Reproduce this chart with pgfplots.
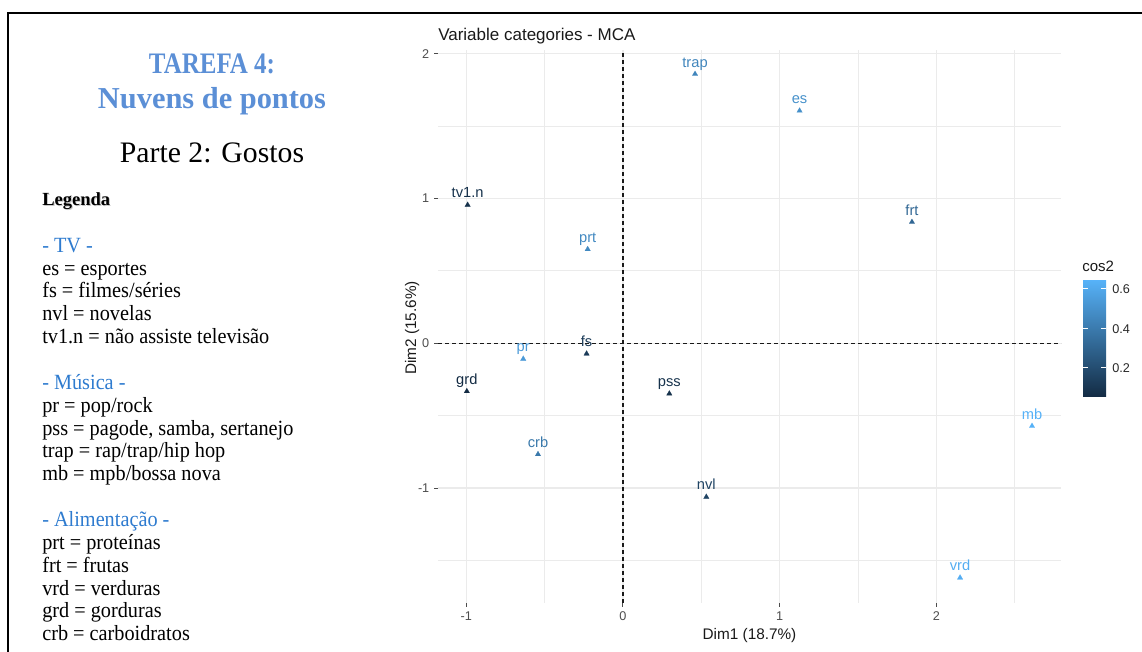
\documentclass[border=0pt]{standalone}
\usepackage{fontspec}
\setmainfont{Liberation Serif}
\newfontfamily\sans{Liberation Sans}
\usepackage{pgfplots}
\pgfplotsset{compat=1.18}
\usepackage{graphicx}
\definecolor{lo}{HTML}{132B43}
\definecolor{hi}{HTML}{56B1F7}
\definecolor{ttl}{HTML}{5B8FD6}
\definecolor{sec}{HTML}{2E7BCF}
\definecolor{gridc}{HTML}{EBEBEB}
\definecolor{tickc}{HTML}{4D4D4D}
\colorlet{ctrap}{hi!67!lo}
\colorlet{ces}{hi!75!lo}
\colorlet{cfrt}{hi!45!lo}
\colorlet{ctv}{hi!5!lo}
\colorlet{cprt}{hi!70!lo}
\colorlet{cpr}{hi!82!lo}
\colorlet{cfs}{hi!12!lo}
\colorlet{cgrd}{hi!0!lo}
\colorlet{cpss}{hi!5!lo}
\colorlet{ccrb}{hi!58!lo}
\colorlet{cnvl}{hi!18!lo}
\colorlet{cmb}{hi!100!lo}
\colorlet{cvrd}{hi!97!lo}
\newcommand{\pnt}[4]{\addplot[#3, only marks, mark=triangle*, mark size=2.4pt,
  mark options={draw=#3, fill=#3, line width=0.1pt}, nodes near coords={#4},
  every node near coord/.style={anchor=base, yshift=5.25pt, text=#3, inner sep=0pt,
  font=\sans\fontsize{11}{12}\selectfont}] coordinates {(#1,#2)};}
\newcommand{\LL}[3]{\node[anchor=base west, inner sep=0pt, text=#2, font=\fontsize{15.2}{17}\selectfont] at (42,{652-252.3-22.85*#1}) {\scalebox{1}[1.07]{#3}};}
\begin{document}
\begin{tikzpicture}[x=0.75pt,y=0.75pt]
\path[use as bounding box] (0,0) rectangle (1142,652);
\draw[line width=1.5pt] (8,0) -- (8,639) -- (1142,639);
\begin{axis}[
  at={(328.5pt,36.75pt)}, anchor=south west, scale only axis,
  width=467.25pt, height=414.75pt,
  xmin=-1.18, xmax=2.795, ymin=-1.795, ymax=2.027,
  xtick={-1,0,1,2}, ytick={-1,0,1,2},
  minor xtick={-0.5,0.5,1.5,2.5}, minor ytick={-1.5,-0.5,0.5,1.5},
  grid=both,
  major grid style={gridc, line width=0.85pt},
  minor grid style={gridc, line width=0.75pt},
  axis lines*=left, axis line style={draw=none},
  tick align=outside,
  major tick length=3pt, minor tick length=0pt,
  tick style={black!70, line width=0.7pt},
  ticklabel style={font=\sans\fontsize{9.5}{10}\selectfont, text=tickc},
  /pgf/number format/assume math mode=true,
]
\addplot[black!90, line width=0.85pt, dash pattern=on 3pt off 2.25pt, forget plot] coordinates {(0,-1.795) (0,2.027)};
\addplot[black!90, line width=0.85pt, dash pattern=on 3pt off 2.25pt, forget plot] coordinates {(-1.18,0) (2.795,0)};
\pnt{0.46}{1.861}{ctrap}{trap}
\pnt{1.127}{1.607}{ces}{es}
\pnt{1.844}{0.838}{cfrt}{frt}
\pnt{-0.991}{0.956}{ctv}{tv1.n}
\pnt{-0.225}{0.650}{cprt}{prt}
\pnt{-0.636}{-0.108}{cpr}{pr}
\pnt{-0.232}{-0.072}{cfs}{fs}
\pnt{-0.996}{-0.332}{cgrd}{grd}
\pnt{0.296}{-0.348}{cpss}{pss}
\pnt{-0.542}{-0.767}{ccrb}{crb}
\pnt{0.532}{-1.062}{cnvl}{nvl}
\pnt{2.610}{-0.572}{cmb}{mb}
\pnt{2.151}{-1.620}{cvrd}{vrd}
\end{axis}
% chart texts
\node[anchor=base west, inner sep=0pt, font=\sans\fontsize{12.75}{14}\selectfont, text=black!90] at (438,611.3) {Variable categories - MCA};
\node[anchor=base, inner sep=0pt, font=\sans\fontsize{11.5}{13}\selectfont, text=black!90] at (749.5,12.7) {Dim1 (18.7\%)};
\node[anchor=base, rotate=90, inner sep=0pt, font=\sans\fontsize{11.5}{13}\selectfont, text=black!90] at (416,324) {Dim2 (15.6\%)};
% colorbar
\shade[bottom color=lo, top color=hi] (1083,255) rectangle (1106,371);
\foreach \yy/\lab in {284.3/0.2, 323.3/0.4, 363/0.6}{
  \draw[white, line width=0.75pt] (1083,\yy) -- (1087.6,\yy);
  \draw[white, line width=0.75pt] (1101.4,\yy) -- (1106,\yy);
  \node[anchor=west, inner sep=0pt, font=\sans\fontsize{9.5}{10}\selectfont, text=black!85] at (1112,\yy) {\lab};
}
\node[anchor=base west, inner sep=0pt, font=\sans\fontsize{11.25}{12}\selectfont, text=black!90] at (1082,380.3) {cos2};
% left panel
\node[anchor=base, inner sep=0pt, text=ttl, font=\bfseries\fontsize{18.75}{20}\selectfont] at (212,578) {\scalebox{1}[1.19]{TAREFA 4:}};
\node[anchor=base, inner sep=0pt, text=ttl, font=\bfseries\fontsize{22.8}{24}\selectfont] at (212,543.7) {Nuvens de pontos};
\node[anchor=base, inner sep=0pt, text=black, font=\fontsize{22.3}{24}\selectfont] at (212,489.7) {Parte 2: Gostos};
\node[anchor=base west, inner sep=0pt, text=black!22, font=\bfseries\fontsize{13.9}{15}\selectfont] at (43,445) {Legenda};
\node[anchor=base west, inner sep=0pt, text=black, font=\bfseries\fontsize{13.9}{15}\selectfont] at (42,446) {Legenda};
\LL{0}{sec}{- TV -}
\LL{1}{black}{es = esportes}
\LL{2}{black}{fs = filmes/séries}
\LL{3}{black}{nvl = novelas}
\LL{4}{black}{tv1.n = não assiste televisão}
\LL{6}{sec}{- Música -}
\LL{7}{black}{pr = pop/rock}
\LL{8}{black}{pss = pagode, samba, sertanejo}
\LL{9}{black}{trap = rap/trap/hip hop}
\LL{10}{black}{mb = mpb/bossa nova}
\LL{12}{sec}{- Alimentação -}
\LL{13}{black}{prt = proteínas}
\LL{14}{black}{frt = frutas}
\LL{15}{black}{vrd = verduras}
\LL{16}{black}{grd = gorduras}
\LL{17}{black}{crb = carboidratos}
\end{tikzpicture}
\end{document}
